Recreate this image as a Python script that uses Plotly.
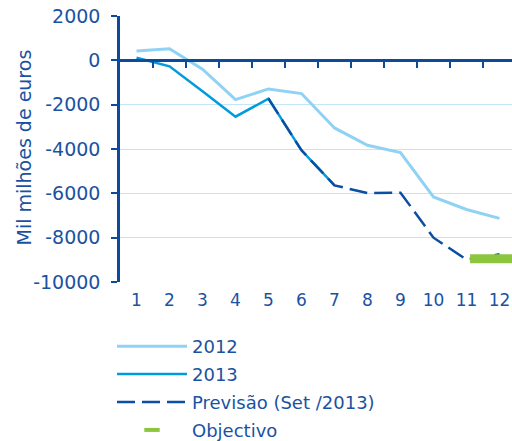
import plotly.graph_objects as go

months = list(range(1, 13))
serie_2012 = [420, 525, -400, -1770, -1290, -1500, -3050, -3830, -4160, -6160, -6730, -7130]
months_2013 = [1, 2, 3, 4, 5, 6, 7]
serie_2013 = [120, -270, -1400, -2540, -1730, -4060, -5640]
months_prev = [5, 6, 7, 8, 9, 10, 11, 12]
serie_prev = [-1730, -4060, -5640, -5990, -5970, -8000, -8990, -8750]
month_obj = [12]
valor_obj = [-8950]
y_ticks = [2000, 0, -2000, -4000, -6000, -8000, -10000]

axis_col = "#0c4a9b"
text_col = "#1a52a2"
font_fam = "DejaVu Sans"
green = "#8cc63f"

fig = go.Figure()
fig.add_trace(go.Scatter(x=months, y=serie_2012, mode="lines", name="2012", legendgroup="a",
                         line=dict(color="#8fd2f3", width=3)))
fig.add_trace(go.Scatter(x=months_2013, y=serie_2013, mode="lines", name="2013", legendgroup="b",
                         line=dict(color="#009bdb", width=2.5)))
fig.add_trace(go.Scatter(x=months_prev, y=serie_prev, mode="lines", name="Previsão (Set /2013)",
                         legendgroup="c",
                         line=dict(color="#0b4ea2", width=2.5, dash="18px,7px")))
fig.add_trace(go.Scatter(x=month_obj, y=valor_obj, mode="markers", name="Objectivo",
                         showlegend=False, legendgroup="d",
                         marker=dict(symbol="line-ew", size=42, color=green,
                                     line=dict(color=green, width=9))))
# legend entry for the objective (smaller symbol, as in the reference)
fig.add_trace(go.Scatter(x=[None], y=[None], mode="markers", name="Objectivo", legendgroup="d",
                         marker=dict(symbol="line-ew", size=11, color=green,
                                     line=dict(color=green, width=4))))
# dummy trace for the zero-line axis
fig.add_trace(go.Scatter(x=[1], y=[0], xaxis="x2", mode="markers", marker=dict(opacity=0),
                         showlegend=False, hoverinfo="skip"))

fig.update_layout(
    width=512, height=441,
    margin=dict(l=120, r=0, t=16, b=159, autoexpand=False),
    paper_bgcolor="white", plot_bgcolor="white",
    font=dict(family=font_fam, color=text_col, size=17),
    showlegend=True,
    legend=dict(x=-0.0204, y=-0.173, xanchor="left", yanchor="top",
                font=dict(size=18, color=text_col), itemsizing="trace", itemwidth=70,
                tracegroupgap=1.5, bgcolor="rgba(0,0,0,0)"),
    xaxis=dict(range=[0.5, 12.379], tickvals=months, ticktext=[str(m) for m in months],
               showgrid=False, zeroline=False, showline=False, ticks="",
               ticklabelstandoff=6, automargin=False,
               tickfont=dict(size=17, color=text_col), fixedrange=True),
    xaxis2=dict(overlaying="x", matches="x", anchor="free", position=10000/12000,
                side="bottom", showline=True, linecolor=axis_col, linewidth=2.5,
                ticks="outside", ticklen=6, tickwidth=2, tickcolor=axis_col,
                tickvals=[m + 0.5 for m in months[:-1]], showticklabels=False,
                showgrid=False, zeroline=False, automargin=False),
    yaxis=dict(range=[-10000, 2000], tickvals=y_ticks, ticktext=[str(v) for v in y_ticks],
               showgrid=True, gridcolor="#c4e7f7", gridwidth=1, zeroline=False,
               showline=True, linecolor=axis_col, linewidth=2.5,
               ticks="outside", ticklen=6, tickwidth=2, tickcolor=axis_col,
               ticklabelstandoff=7, automargin=False,
               tickfont=dict(size=19, color=text_col)),
    annotations=[dict(text="Mil milhões de euros", textangle=-90, xref="paper", yref="paper",
                      x=-0.2449, y=0.5056, xanchor="center", yanchor="middle",
                      showarrow=False, font=dict(size=19, color=text_col))],
)

fig.write_html("out.html", config={"displayModeBar": False},
               post_script="document.body.style.margin='0';")
